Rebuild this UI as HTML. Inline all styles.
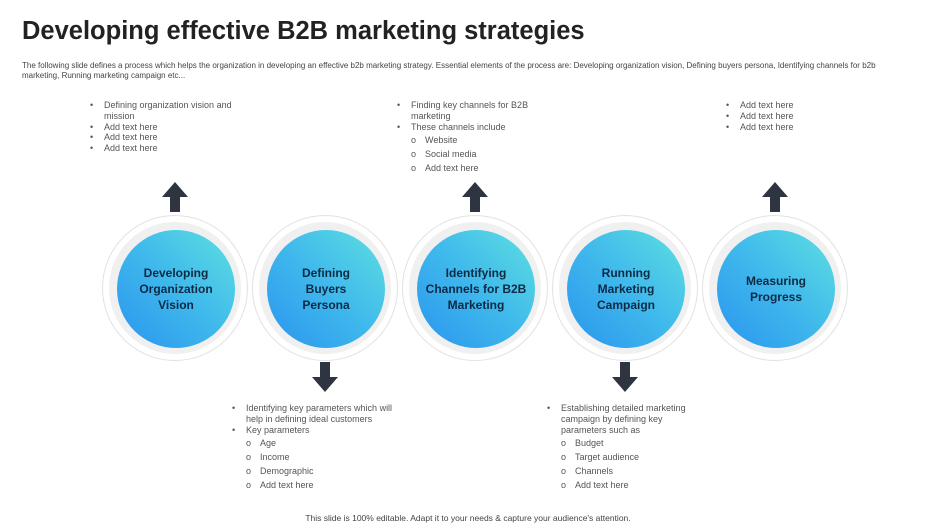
<!DOCTYPE html><html><head><style>
body{margin:0;width:936px;height:528px;background:#fff;position:relative;overflow:hidden;font-family:"Liberation Sans",sans-serif}
.a{position:absolute}
h1{position:absolute;left:22px;top:17px;margin:0;font-size:25.5px;font-weight:bold;color:#222;letter-spacing:0}
.sub{left:22px;top:61px;width:872px;font-size:8px;color:#444;line-height:10px}
.ring{position:absolute;width:146px;height:146px;border-radius:50%;border:1px solid #e2e2e2;background:#fff;box-sizing:border-box}
.band{position:absolute;left:6px;top:6px;width:132px;height:132px;border-radius:50%;background:#f0f0f0}
.c{position:absolute;left:14px;top:14px;width:118px;height:118px;border-radius:50%;background:linear-gradient(225deg,#5de0e0 0%,#3fb8ec 50%,#2a95ee 100%);display:flex;align-items:center;justify-content:center;text-align:center;font-weight:bold;font-size:12px;line-height:16px;color:#0d2a45}
.t{font-size:9px;color:#555;line-height:10.8px}
.t ul{margin:0;padding-left:14px;list-style:none}
.t li{position:relative}
.t li:before{content:"•";position:absolute;left:-14px}
.t li.o{padding-left:14px;margin:3px 0}
.t li.o:before{content:"o";left:0}
</style></head><body>
<h1>Developing effective B2B marketing strategies</h1>
<div class="a sub">The following slide defines a process which helps the organization in developing an effective b2b marketing strategy. Essential elements of the process are: Developing organization vision, Defining buyers persona, Identifying channels for b2b marketing, Running marketing campaign etc...</div>

<div class="ring" style="left:102px;top:215px"><div class="band"></div><div class="c">Developing<br>Organization<br>Vision</div></div>
<div class="ring" style="left:252px;top:215px"><div class="band"></div><div class="c">Defining<br>Buyers<br>Persona</div></div>
<div class="ring" style="left:402px;top:215px"><div class="band"></div><div class="c">Identifying<br>Channels for B2B<br>Marketing</div></div>
<div class="ring" style="left:552px;top:215px"><div class="band"></div><div class="c">Running<br>Marketing<br>Campaign</div></div>
<div class="ring" style="left:702px;top:215px"><div class="band"></div><div class="c">Measuring<br>Progress</div></div>

<svg class="a" style="left:0;top:0" width="936" height="528">
<g fill="#2f3540">
<path d="M175 182 L188 197 L180 197 L180 212 L170 212 L170 197 L162 197Z"/>
<path d="M475 182 L488 197 L480 197 L480 212 L470 212 L470 197 L462 197Z"/>
<path d="M775 182 L788 197 L780 197 L780 212 L770 212 L770 197 L762 197Z"/>
<path d="M325 392 L338 377 L330 377 L330 362 L320 362 L320 377 L312 377Z"/>
<path d="M625 392 L638 377 L630 377 L630 362 L620 362 L620 377 L612 377Z"/>
</g></svg>

<div class="a t" style="left:90px;top:100px;width:152px"><ul><li>Defining organization vision and mission</li><li>Add text here</li><li>Add text here</li><li>Add text here</li></ul></div>
<div class="a t" style="left:397px;top:100px;width:150px"><ul><li>Finding key channels for B2B marketing</li><li>These channels include</li><li class="o">Website</li><li class="o">Social media</li><li class="o">Add text here</li></ul></div>
<div class="a t" style="left:726px;top:100px;width:160px"><ul><li>Add text here</li><li>Add text here</li><li>Add text here</li></ul></div>
<div class="a t" style="left:232px;top:403px;width:178px"><ul><li>Identifying key parameters which will help in defining ideal customers</li><li>Key parameters</li><li class="o">Age</li><li class="o">Income</li><li class="o">Demographic</li><li class="o">Add text here</li></ul></div>
<div class="a t" style="left:547px;top:403px;width:150px"><ul><li>Establishing detailed marketing campaign by defining key parameters such as</li><li class="o">Budget</li><li class="o">Target audience</li><li class="o">Channels</li><li class="o">Add text here</li></ul></div>

<div class="a" style="left:0;width:936px;top:513px;text-align:center;font-size:8.5px;color:#444">This slide is 100% editable. Adapt it to your needs &amp; capture your audience's attention.</div>
</body></html>
